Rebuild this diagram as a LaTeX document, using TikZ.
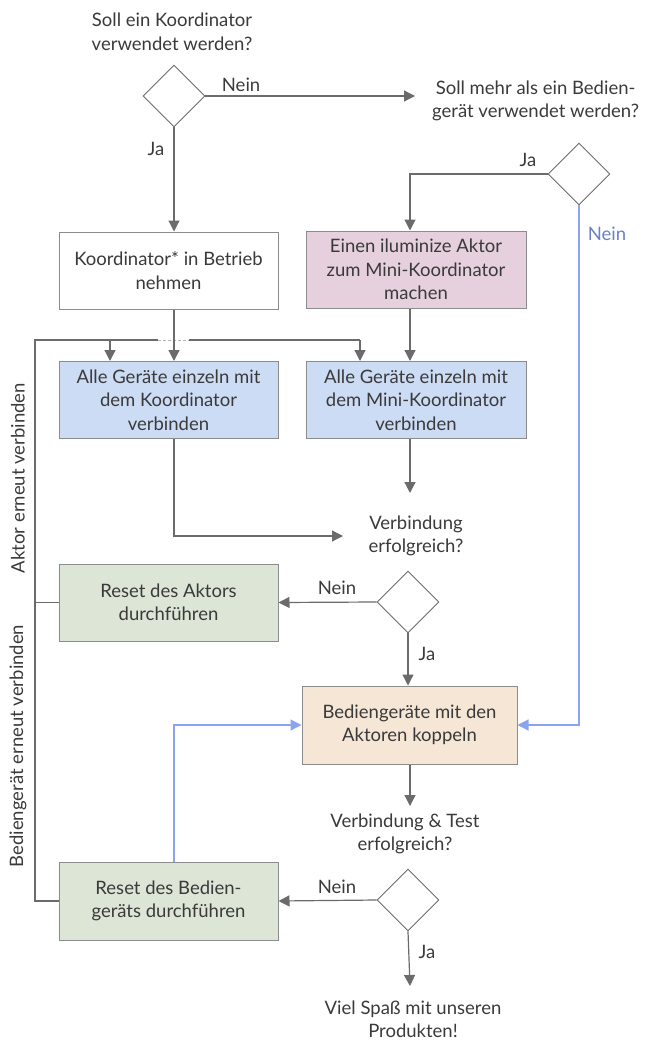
\documentclass[tikz,border=0pt]{standalone}
\usepackage{fontspec}
\setmainfont{Lato}
\usetikzlibrary{arrows.meta,shapes.geometric}
\definecolor{ln}{HTML}{6B6B6B}
\definecolor{bd}{HTML}{8C8C8C}
\definecolor{tx}{HTML}{3A3A3A}
\definecolor{bl}{HTML}{8AA4F2}
\definecolor{bltx}{HTML}{6A80C8}
\definecolor{pink}{HTML}{E6D0DE}
\definecolor{lblue}{HTML}{CCDCF5}
\definecolor{lgreen}{HTML}{DCE5D6}
\definecolor{peach}{HTML}{F6E6D6}
\begin{document}
\begin{tikzpicture}[x=1pt,y=-1pt,
  font=\fontsize{18.5}{23.5}\selectfont, text=tx,
  box/.style={draw=bd, line width=1pt, minimum width=219pt, minimum height=77pt, align=center, inner sep=0pt},
  dia/.style={diamond, draw=ln, line width=0.9pt, minimum width=62pt, minimum height=62pt, inner sep=0pt, fill=white},
  conn/.style={draw=ln, line width=1.2pt},
  arr/.style={conn, -{Triangle[length=11pt,width=11pt]}},
  barr/.style={draw=bl, line width=1.2pt, -{Triangle[length=11pt,width=11pt]}},
  lbl/.style={align=center, inner sep=0pt}
]
\useasboundingbox (0,0) rectangle (646,1041);
\coordinate (c1) at (174,0);
\coordinate (c2) at (410,0);

% questions
\node[lbl] (q1) at (172,32) {Soll ein Koordinator\\verwendet werden?};
\node[lbl, anchor=west] (q2) at (432,101) {Soll mehr als ein Bedien-\\gerät verwendet werden?};
\node[lbl] (q3) at (416,536) {Verbindung\\erfolgreich?};
\node[lbl] (q4) at (405,834) {Verbindung \& Test\\erfolgreich?};
\node[lbl] (q5) at (413,1019) {Viel Spaß mit unseren\\Produkten!};

\coordinate (q2w) at (415,96);
\coordinate (q3w) at (343,536);
\coordinate (q3n) at (410,493);
\coordinate (q4n) at (410,806);
\coordinate (q5n) at (410,986);

% diamonds
\node[dia] (d1) at (174,96) {};
\node[dia] (d2) at (579,174) {};
\node[dia] (d3) at (408,602) {};
\node[dia] (d4) at (408,900) {};

% boxes
\node[box, fill=white] (b1) at (168.5,270.5) {Koordinator* in Betrieb\\nehmen};
\node[box, fill=pink, minimum width=220pt] (b2) at (416,269.5) {Einen iluminize Aktor\\zum Mini-Koordinator\\machen};
\node[box, fill=lblue] (b3) at (168.5,400) {Alle Geräte einzeln mit\\dem Koordinator\\verbinden};
\node[box, fill=lblue, minimum width=220pt] (b4) at (416,400) {Alle Geräte einzeln mit\\dem Mini-Koordinator\\verbinden};
\node[box, fill=lgreen] (ra) at (168.5,602.5) {Reset des Aktors\\durchführen};
\node[box, fill=peach, minimum width=215pt, minimum height=78pt] (bk) at (409.5,725) {Bediengeräte mit den\\Aktoren koppeln};
\node[box, fill=lgreen, minimum height=78pt] (rb) at (168.5,901) {Reset des Bedien-\\geräts durchführen};

% feedback loop
\coordinate (fb) at (35,340);
\coordinate (fbl) at (110,340);
\coordinate (fbr) at (360,340);
\draw[conn] (ra.west) -- (ra.west -| fb);
\draw[conn] (rb.west) -| (fb) -- (fbr);
\fill[white] (158,338) rectangle (189,342);
\draw[ln!50, line width=1pt, dash pattern=on 3pt off 2pt] (158,340) -- (189,340);
\draw[arr] (fbl) -- (b3.north -| fbl);
\draw[arr] (fbr) -- (b4.north -| fbr);
\node[lbl, rotate=90] (t1) at (18,478) {Aktor erneut verbinden};
\node[lbl, rotate=90] (t2) at (18,746) {Bediengerät erneut verbinden};

% main connectors
\draw[arr] (d1.east) -- node[above, pos=0.17, inner sep=4pt] (n1) {Nein} (q2w);
\draw[arr] (d1.south) -- (b1.north -| d1);
\node[lbl] (j1) at (156,149) {Ja};
\draw[arr] (d2.west) -| (b2.north -| c2);
\node[lbl] (j2) at (528,160) {Ja};
\draw[barr] (d2.south) |- (bk.east);
\node[lbl, text=bltx] (n2) at (607,234) {Nein};
\draw[arr] (b1.south -| c1) -- (b3.north -| c1);
\draw[arr] (b2.south -| c2) -- (b4.north -| c2);
\draw[arr] (b3.south -| c1) |- (q3w);
\draw[arr] (b4.south -| c2) -- (q3n);
\draw[arr] (d3.west) -- (ra.east);
\node[lbl] (n3) at (337,588) {Nein};
\draw[arr] (d3.south) -- (bk.north -| d3);
\node[lbl] (j3) at (427,654) {Ja};
\draw[barr] (rb.north -| c1) |- (bk.west);
\draw[arr] (bk.south -| c2) -- (q4n);
\draw[arr] (d4.west) -- (rb.east);
\node[lbl] (n4) at (337,887) {Nein};
\draw[arr] (d4.south) -- (q5n);
\node[lbl] (j4) at (427,952) {Ja};
\end{tikzpicture}
\end{document}
